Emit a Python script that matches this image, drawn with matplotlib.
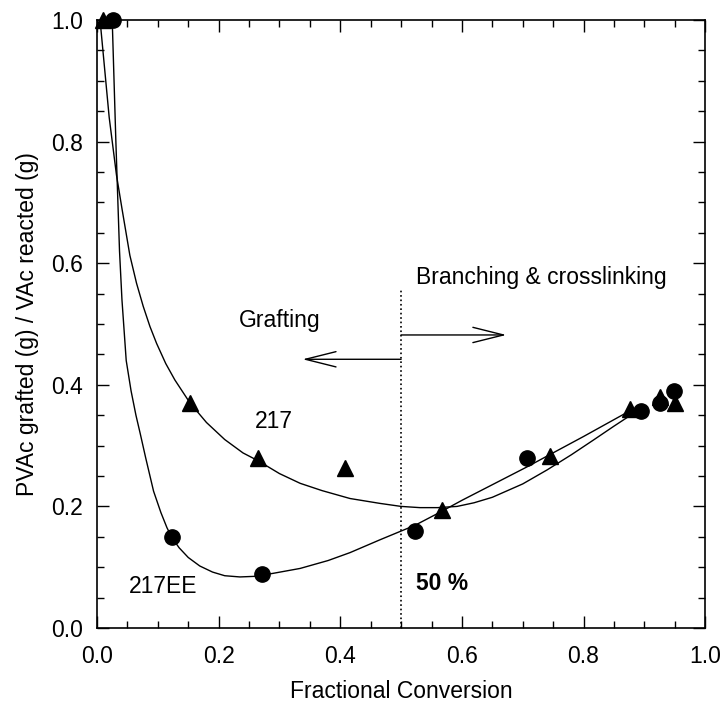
import matplotlib.pyplot as plt
from matplotlib.ticker import MultipleLocator

plt.rcParams['font.family'] = ['Liberation Sans', 'DejaVu Sans']

# measured points, sample 217 (triangles)
conv_217 = [0.01, 0.153, 0.265, 0.407, 0.568, 0.745, 0.877, 0.925, 0.951]
ratio_217 = [1.0, 0.37, 0.279, 0.263, 0.194, 0.283, 0.361, 0.38, 0.37]

# measured points, sample 217EE (circles)
conv_217ee = [0.026, 0.123, 0.272, 0.523, 0.707, 0.895, 0.926, 0.948]
ratio_217ee = [1.0, 0.149, 0.089, 0.16, 0.279, 0.357, 0.37, 0.39]

# fitted curves
fit_217_x = [0.005, 0.02, 0.032, 0.041, 0.054, 0.065, 0.076, 0.087, 0.098, 0.113,
             0.128, 0.153, 0.18, 0.21, 0.24, 0.265, 0.3, 0.334, 0.37, 0.416,
             0.465, 0.5, 0.531, 0.56, 0.592, 0.62, 0.65, 0.7, 0.74, 0.78,
             0.816, 0.85, 0.882]
fit_217_y = [1.0, 0.84, 0.745, 0.69, 0.613, 0.567, 0.529, 0.496, 0.468, 0.435,
             0.408, 0.37, 0.338, 0.31, 0.288, 0.275, 0.254, 0.238, 0.226, 0.213,
             0.205, 0.2, 0.198, 0.198, 0.2, 0.206, 0.215, 0.237, 0.26, 0.285,
             0.309, 0.332, 0.353]

fit_ee_x = [0.025, 0.028, 0.031, 0.034, 0.037, 0.041, 0.048, 0.056, 0.064, 0.071,
            0.08, 0.093, 0.105, 0.115, 0.123, 0.135, 0.15, 0.169, 0.19, 0.21,
            0.235, 0.26, 0.29, 0.334, 0.38, 0.416, 0.465, 0.523, 0.567, 0.6,
            0.707, 0.8, 0.874]
fit_ee_y = [1.0, 0.9, 0.8, 0.71, 0.62, 0.54, 0.44, 0.39, 0.35, 0.32,
            0.28, 0.225, 0.19, 0.165, 0.149, 0.132, 0.116, 0.102, 0.092, 0.086,
            0.084, 0.085, 0.09, 0.098, 0.111, 0.124, 0.145, 0.169, 0.192, 0.21,
            0.265, 0.315, 0.356]

fs = 16.5

fig = plt.figure(figsize=(7.24, 7.05), dpi=100)
ax = fig.add_axes([0.134, 0.1092, 0.84, 0.8624])

ax.plot(fit_217_x, fit_217_y, color='black', lw=1.0)
ax.plot(fit_ee_x, fit_ee_y, color='black', lw=1.0)
ax.plot(conv_217, ratio_217, '^', color='black', ms=11, clip_on=False)
ax.plot(conv_217ee, ratio_217ee, 'o', color='black', ms=11, clip_on=False)

ax.plot([0.5, 0.5], [0.0, 0.556], ':', color='black', lw=1.2)

ax.annotate('', xy=(0.338, 0.442), xytext=(0.5, 0.442),
            arrowprops=dict(arrowstyle='->,head_length=2.2,head_width=0.55',
                            lw=1, color='black', mutation_scale=10,
                            shrinkA=0, shrinkB=0))
ax.annotate('', xy=(0.673, 0.482), xytext=(0.5, 0.482),
            arrowprops=dict(arrowstyle='->,head_length=2.2,head_width=0.55',
                            lw=1, color='black', mutation_scale=10,
                            shrinkA=0, shrinkB=0))

ax.text(0.525, 0.576, 'Branching & crosslinking', fontsize=fs, va='center', ha='left')
ax.text(0.3, 0.505, 'Grafting', fontsize=fs, va='center', ha='center')
ax.text(0.29, 0.34, '217', fontsize=fs, va='center', ha='center')
ax.text(0.109, 0.069, '217EE', fontsize=fs, va='center', ha='center')
ax.text(0.525, 0.073, '50 %', fontsize=fs, fontweight='bold', va='center', ha='left')

ax.set_xlim(0, 1)
ax.set_ylim(0, 1)
ax.xaxis.set_major_locator(MultipleLocator(0.2))
ax.xaxis.set_minor_locator(MultipleLocator(0.05))
ax.yaxis.set_major_locator(MultipleLocator(0.2))
ax.yaxis.set_minor_locator(MultipleLocator(0.05))
ax.xaxis.set_major_formatter(plt.FormatStrFormatter('%.1f'))
ax.yaxis.set_major_formatter(plt.FormatStrFormatter('%.1f'))
ax.tick_params(which='both', direction='in', top=True, right=True, labelsize=fs)
ax.tick_params(which='major', length=8.5, width=1)
ax.tick_params(which='minor', length=5, width=1)
ax.tick_params(axis='x', pad=12)
ax.tick_params(axis='y', pad=10)
for s in ax.spines.values():
    s.set_linewidth(1.2)

ax.set_xlabel('Fractional Conversion', fontsize=fs, va='center')
ax.set_ylabel('PVAc grafted (g) / VAc reacted (g)', fontsize=fs, va='center')
ax.xaxis.set_label_coords(0.5, -0.104)
ax.yaxis.set_label_coords(-0.115, 0.5)

fig.savefig('out.png', dpi=100)
